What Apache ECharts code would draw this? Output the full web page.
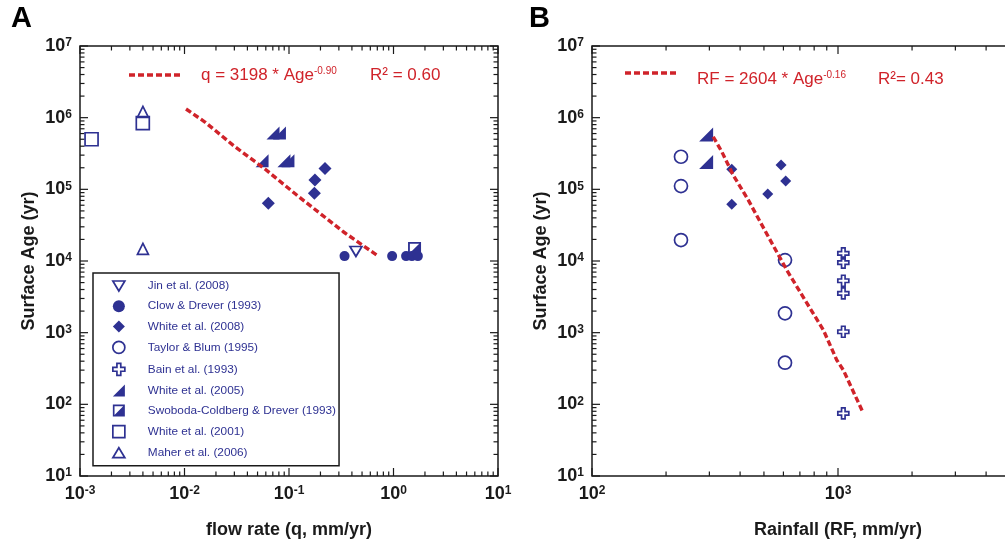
<!DOCTYPE html>
<html><head><meta charset="utf-8">
<script src="https://cdn.jsdelivr.net/npm/echarts@6/dist/echarts.min.js"></script>
<style>html,body{margin:0;padding:0;background:#fff}#c{width:1005px;height:545px}</style>
</head><body><div id="c"></div>
<script>
const NAVY = '#2e3192', RED = '#d0232a', INK = '#1a1a1a';
const FONT = "'Liberation Sans', Arial, Helvetica, sans-serif";

// ---------- Panel A: [flow rate q (mm/yr), surface age (yr)] ----------
const jinA      = [[0.437, 1.36e4]];
const clowA     = [[0.34, 1.17e4], [0.97, 1.17e4], [1.32, 1.17e4], [1.50, 1.17e4], [1.71, 1.17e4]];
const white2008A = [[0.0634, 6.4e4], [0.177, 1.35e5], [0.175, 8.8e4], [0.221, 1.96e5]];
const white2005A = [[0.0703, 6.1e5], [0.081, 6.1e5], [0.0552, 2.5e5], [0.0895, 2.5e5], [0.0977, 2.5e5]];
const swobodaA  = [[1.59, 1.5e4]];
const white2001A = [[0.00129, 5.0e5], [0.00399, 8.4e5]];
const maherA    = [[0.004, 1.2e6], [0.004, 1.48e4]];
// fitted line (read vertices)
const fitAq   = [0.01034, 0.0157, 0.0304, 0.0589, 0.1186, 0.331, 0.690];
const fitAage = [1.32e6, 8.69e5, 3.93e5, 1.92e5, 8.32e4, 2.56e4, 1.21e4];

// ---------- Panel B: [rainfall RF (mm/yr), surface age (yr)] ----------
const taylorB   = [[230, 2.85e5], [230, 1.11e5], [230, 1.96e4], [609, 1.03e4], [609, 1.86e3], [609, 381]];
const bainB     = [[1051, 1.28e4], [1051, 9.5e3], [1051, 5.3e3], [1051, 3.54e3], [1051, 1.03e3], [1051, 75]];
const white2005B = [[291, 5.8e5], [291, 2.4e5]];
const white2008B = [[370, 1.9e5], [370, 6.2e4], [518, 8.6e4], [587, 2.18e5], [613, 1.31e5]];
const fitBrf  = [311, 337, 375, 432, 521, 619, 734, 872, 988, 1051, 1268];
const fitBage = [5.42e5, 3.35e5, 1.58e5, 7.07e4, 2.18e4, 7.48e3, 2.86e3, 1.09e3, 416, 301, 75];

// legend / series names
const legendNames = ['Jin et al. (2008)', 'Clow & Drever (1993)', 'White et al. (2008)', 'Taylor & Blum (1995)',
  'Bain et al. (1993)', 'White et al. (2005)', 'Swoboda-Coldberg & Drever (1993)', 'White et al. (2001)', 'Maher et al. (2006)'];

// symbol shapes
const SYM = {
  jin: 'path://M0,0L12,0L6,10Z',
  circle: 'path://M5,0A5,5,0,1,1,5,10A5,5,0,1,1,5,0Z',
  diamond: 'path://M5,0L10,5L5,10L0,5Z',
  cross: 'path://M3.4,0H6.6V3.4H10V6.6H6.6V10H3.4V6.6H0V3.4H3.4Z',
  rtri: 'path://M0,10L10,0L10,10Z',
  halfsq: 'path://M0,0H10V10H0Z M1.4,1.4V8.6H8.6V1.4Z M8.6,1.4V8.6H1.4Z',
  square: 'path://M0,0H10V10H0Z',
  tri: 'path://M6,0L12,10L0,10Z'
};
const FILLED = { color: NAVY, opacity: 1 };
const OPEN = { color: 'rgba(255,255,255,0)', borderColor: NAVY, borderWidth: 1.7, opacity: 1 };

const legendSpec = [
  { name: legendNames[0], icon: SYM.jin, itemStyle: OPEN },
  { name: legendNames[1], icon: SYM.circle, itemStyle: FILLED },
  { name: legendNames[2], icon: SYM.diamond, itemStyle: FILLED },
  { name: legendNames[3], icon: SYM.circle, itemStyle: OPEN },
  { name: legendNames[4], icon: SYM.cross, itemStyle: OPEN },
  { name: legendNames[5], icon: SYM.rtri, itemStyle: FILLED },
  { name: legendNames[6], icon: SYM.halfsq, itemStyle: FILLED },
  { name: legendNames[7], icon: SYM.square, itemStyle: OPEN },
  { name: legendNames[8], icon: SYM.tri, itemStyle: OPEN }
];

function scatter(name, data, grid, symbol, size, style) {
  return { type: 'scatter', name, data, xAxisIndex: grid, yAxisIndex: grid, symbol, symbolSize: size,
    itemStyle: style, z: 3, silent: true };
}
function zip(a, b) { return a.map((v, i) => [v, b[i]]); }

// tick marks (major at decades, minor at 2..9) drawn on all four sides of each box
function tickData(xe0, xe1, ye0, ye1, xRef, yRef) {
  const out = [];
  for (let e = xe0; e < xe1; e++) for (let m = 1; m <= 9; m++) out.push([m * Math.pow(10, e), yRef, m === 1 ? 0 : 1]);
  out.push([Math.pow(10, xe1), yRef, 0]);
  for (let e = ye0; e < ye1; e++) for (let m = 1; m <= 9; m++) out.push([xRef, m * Math.pow(10, e), m === 1 ? 2 : 3]);
  out.push([xRef, Math.pow(10, ye1), 2]);
  return out;
}
function tickRender(params, api) {
  const cs = params.coordSys;
  const kind = api.value(2);
  const len = (kind === 0 || kind === 2) ? 8 : 4.5;
  const p = api.coord([api.value(0), api.value(1)]);
  const st = () => ({ stroke: INK, lineWidth: 1.2 });
  if (kind < 2) {
    const b = cs.y + cs.height, t = cs.y;
    return { type: 'group', children: [
      { type: 'line', shape: { x1: p[0], y1: b, x2: p[0], y2: b - len }, style: st() },
      { type: 'line', shape: { x1: p[0], y1: t, x2: p[0], y2: t + len }, style: st() }] };
  }
  const l = cs.x, r = cs.x + cs.width;
  return { type: 'group', children: [
    { type: 'line', shape: { x1: l, y1: p[1], x2: l + len, y2: p[1] }, style: st() },
    { type: 'line', shape: { x1: r, y1: p[1], x2: r - len, y2: p[1] }, style: st() }] };
}

const supLabel = v => '{b|10}{s|' + Math.round(Math.log10(v)) + '}';
const labelRich = {
  b: { fontSize: 18, fontWeight: 'bold', color: INK, fontFamily: FONT },
  s: { fontSize: 12, fontWeight: 'bold', color: INK, fontFamily: FONT, verticalAlign: 'top' }
};
const nameStyle = { fontSize: 18, fontWeight: 'bold', color: INK, fontFamily: FONT };

function xAxisDef(grid, min, max, split, name) {
  return { type: 'log', logBase: 10, gridIndex: grid, min, max, splitNumber: split,
    name, nameLocation: 'middle', nameGap: 45, nameTextStyle: nameStyle,
    axisLine: { show: false }, axisTick: { show: false }, splitLine: { show: false },
    axisLabel: { formatter: supLabel, rich: labelRich, margin: 9 } };
}
function yAxisDef(grid) {
  return { type: 'log', logBase: 10, gridIndex: grid, min: 10, max: 1e7, splitNumber: 6,
    name: 'Surface Age (yr)', nameLocation: 'middle', nameGap: 42, nameTextStyle: nameStyle,
    axisLine: { show: false }, axisTick: { show: false }, splitLine: { show: false },
    axisLabel: { formatter: supLabel, rich: labelRich, margin: 8 } };
}

const fitStyle = { color: RED, width: 3.4, type: [6, 3] };
const annRich = {
  a: { fontSize: 17, fontFamily: FONT, fill: RED, color: RED },
  s: { fontSize: 10, fontFamily: FONT, fill: RED, color: RED, verticalAlign: 'top' }
};

const option = {
  backgroundColor: '#fff',
  animation: false,
  grid: [
    { left: 80, top: 46, width: 418, height: 430, show: true, borderColor: INK, borderWidth: 1.5, containLabel: false, outerBoundsMode: 'none' },
    { left: 592, top: 46, width: 492, height: 430, show: true, borderColor: INK, borderWidth: 1.5, containLabel: false, outerBoundsMode: 'none' }
  ],
  xAxis: [ xAxisDef(0, 0.001, 10, 4, 'flow rate (q, mm/yr)'), xAxisDef(1, 100, 10000, 2, 'Rainfall (RF, mm/yr)') ],
  yAxis: [ yAxisDef(0), yAxisDef(1) ],
  legend: {
    data: legendSpec, orient: 'vertical', left: 93, top: 273, itemWidth: 12, itemHeight: 12, itemGap: 8.2,
    padding: [7, 3, 7, 19], borderColor: INK, borderWidth: 1.5, backgroundColor: '#fff', selectedMode: false,
    textStyle: { color: NAVY, fontSize: 11.8, fontFamily: FONT, padding: [0, 0, 0, 18] }, z: 10
  },
  series: [
    { type: 'custom', xAxisIndex: 0, yAxisIndex: 0, data: tickData(-3, 1, 1, 7, 0.01, 1000), renderItem: tickRender, silent: true, z: 1 },
    { type: 'custom', xAxisIndex: 1, yAxisIndex: 1, data: tickData(2, 4, 1, 7, 200, 1000), renderItem: tickRender, silent: true, z: 1 },
    scatter(legendNames[7], white2001A, 0, SYM.square, 13, OPEN),
    scatter(legendNames[8], maherA, 0, SYM.tri, [11, 11], OPEN),
    scatter(legendNames[0], jinA, 0, SYM.jin, [12, 10], OPEN),
    scatter(legendNames[1], clowA, 0, SYM.circle, 10, FILLED),
    scatter(legendNames[2], white2008A, 0, SYM.diamond, 13, FILLED),
    scatter(legendNames[5], white2005A, 0, SYM.rtri, 13, FILLED),
    scatter(legendNames[6], swobodaA, 0, SYM.halfsq, 13, FILLED),
    { type: 'line', name: 'fitA', data: zip(fitAq, fitAage), xAxisIndex: 0, yAxisIndex: 0, showSymbol: false, lineStyle: fitStyle, z: 5, silent: true },
    scatter(legendNames[3], taylorB, 1, SYM.circle, 13, OPEN),
    scatter(legendNames[4], bainB, 1, SYM.cross, 11, OPEN),
    scatter(legendNames[5], white2005B, 1, SYM.rtri, 14, FILLED),
    scatter(legendNames[2], white2008B, 1, SYM.diamond, 11, FILLED),
    { type: 'line', name: 'fitB', data: zip(fitBrf, fitBage), xAxisIndex: 1, yAxisIndex: 1, showSymbol: false, lineStyle: fitStyle, z: 5, silent: true }
  ],
  graphic: [
    { type: 'text', x: 11, y: 19, style: { text: 'A', font: "bold 29px " + FONT, fill: '#000', verticalAlign: 'middle' } },
    { type: 'text', x: 529, y: 19, style: { text: 'B', font: "bold 29px " + FONT, fill: '#000', verticalAlign: 'middle' } },
    { type: 'line', shape: { x1: 129, y1: 75, x2: 182, y2: 75 }, style: { stroke: RED, lineWidth: 3.4, lineDash: [6, 3] } },
    { type: 'text', x: 201, y: 75, style: { text: '{a|q = 3198 * Age}{s|-0.90}', verticalAlign: 'middle', fill: RED, rich: annRich } },
    { type: 'text', x: 370, y: 75, style: { text: 'R² = 0.60', font: "17px " + FONT, fill: RED, verticalAlign: 'middle' } },
    { type: 'line', shape: { x1: 625, y1: 73, x2: 678, y2: 73 }, style: { stroke: RED, lineWidth: 3.4, lineDash: [6, 3] } },
    { type: 'text', x: 697, y: 79, style: { text: '{a|RF = 2604 * Age}{s|-0.16}', verticalAlign: 'middle', fill: RED, rich: annRich } },
    { type: 'text', x: 878, y: 79, style: { text: 'R²= 0.43', font: "17px " + FONT, fill: RED, verticalAlign: 'middle' } }
  ]
};

const chart = echarts.init(document.getElementById('c'), null, { renderer: 'canvas' });
chart.setOption(option);
</script></body></html>
